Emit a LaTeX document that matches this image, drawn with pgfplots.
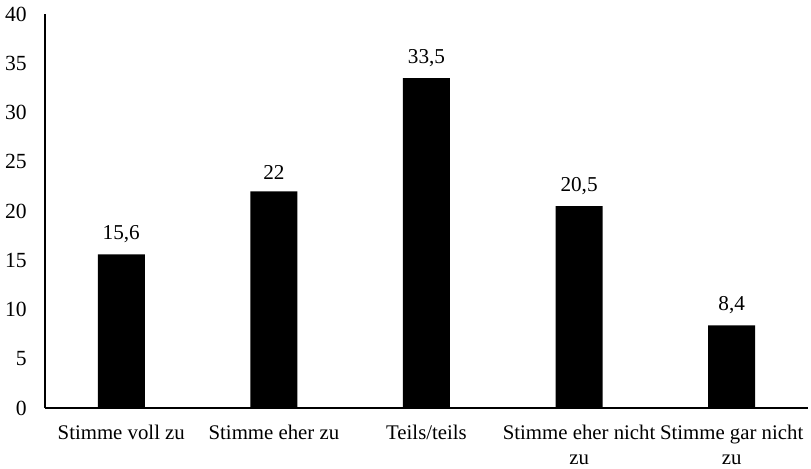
\documentclass[border=0pt]{standalone}
\usepackage{fontspec}
\setmainfont{Liberation Serif}
\usepackage{pgfplots}
\pgfplotsset{compat=1.18}
\begin{document}
\fontsize{10.4}{12.5}\selectfont
\begin{tikzpicture}
\begin{axis}[
  anchor=south west, at={(0,0)},
  scale only axis,
  width=381.5pt, height=197pt,
  xmin=-0.5, xmax=4.5, ymin=0, ymax=40,
  ytick={0,5,...,40},
  xtick={0,1,2,3,4},
  xticklabels={Stimme voll zu, Stimme eher zu, Teils/teils, Stimme eher nicht\\zu, Stimme gar nicht\\zu},
  xticklabel style={align=center, yshift=-5pt, font=\fontsize{10.4}{12.5}\selectfont},
  yticklabel style={xshift=-5.5pt, font=\fontsize{10.8}{12}\selectfont},
  major tick length=0pt,
  axis x line*=bottom, axis y line*=left,
  axis line style={line width=0.9pt, -},
  /pgf/number format/assume math mode=true,
  /pgf/number format/use comma,
  ybar, bar width=23.5pt,
  nodes near coords,
  nodes near coords style={/pgf/number format/.cd, use comma, assume math mode=true, /tikz/.cd, yshift=2pt, font=\fontsize{10.6}{12}\selectfont},
  clip=false,
]
\addplot[fill=black, draw=none] coordinates {(0,15.6) (1,22) (2,33.5) (3,20.5) (4,8.4)};
\end{axis}
\pgfresetboundingbox
\useasboundingbox (-22.5pt,-30pt) rectangle (383pt,204pt);
\end{tikzpicture}
\end{document}
